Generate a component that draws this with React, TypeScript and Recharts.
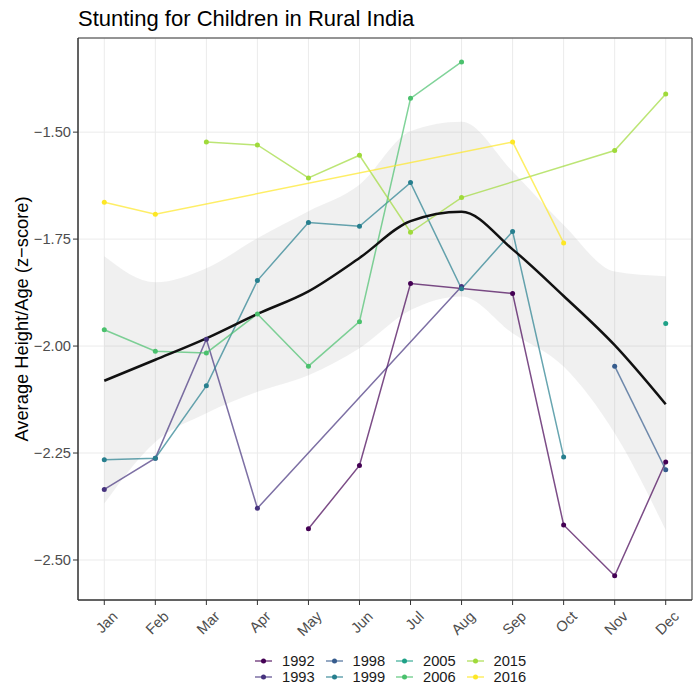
import React from 'react'
import {
  ComposedChart,
  Line,
  Area,
  XAxis,
  YAxis,
  CartesianGrid,
  Legend,
  ReferenceArea,
} from 'recharts'

const months = ['Jan', 'Feb', 'Mar', 'Apr', 'May', 'Jun', 'Jul', 'Aug', 'Sep', 'Oct', 'Nov', 'Dec']

const years = ['1992', '1993', '1998', '1999', '2005', '2006', '2015', '2016']
const colors = ['#440154', '#46337E', '#365C8D', '#277F8E', '#1FA187', '#4AC16D', '#9FDA3A', '#FDE725']

const s1992 = [null, null, null, null, -2.427, -2.279, -1.854, null, -1.877, -2.418, -2.537, -2.271]
const s1993 = [-2.335, -2.262, -1.984, -2.379, null, null, null, -1.861, null, null, null, null]
const s1998 = [null, null, null, null, null, null, null, null, null, null, -2.047, -2.289]
const s1999 = [-2.266, -2.262, -2.093, -1.847, -1.711, -1.72, -1.618, -1.866, -1.732, -2.259, null, null]
const s2005 = [null, null, null, null, null, null, null, null, null, null, null, -1.947]
const s2006 = [-1.962, -2.012, -2.016, -1.925, -2.047, -1.943, -1.421, -1.336, null, null, null, null]
const s2015 = [null, null, -1.523, -1.53, -1.607, -1.554, -1.734, -1.653, null, null, -1.543, -1.411]
const s2016 = [-1.664, -1.692, null, null, null, null, null, null, -1.523, -1.759, null, null]

const smooth = [-2.081, -2.032, -1.982, -1.925, -1.872, -1.794, -1.708, -1.686, -1.774, -1.883, -1.998, -2.136]
const bandLow = [-2.368, -2.224, -2.157, -2.107, -2.068, -2.005, -1.916, -1.884, -1.97, -2.048, -2.204, -2.43]
const bandHigh = [-1.79, -1.851, -1.818, -1.748, -1.685, -1.623, -1.498, -1.476, -1.592, -1.717, -1.826, -1.837]

const yTicks = [-2.5, -2.25, -2.0, -1.75, -1.5]

const seriesList = [s1992, s1993, s1998, s1999, s2005, s2006, s2015, s2016]

const rows = months.map((m, i) => {
  const row: any = { x: i + 1, month: m, smooth: smooth[i], band: [bandLow[i], bandHigh[i]] }
  years.forEach((y, k) => {
    row['y' + y] = seriesList[k][i]
  })
  return row
})

const W = 693
const H = 689
const FONT = '"Liberation Sans", Arial, Helvetica, sans-serif'
const X_DOMAIN: [number, number] = [0.485, 12.515]
const Y_DOMAIN: [number, number] = [-2.5935, -1.28]

const fmtY = (v: number) => v.toFixed(2).replace('-', '\u2212')

const MonthTick = (props: any) => {
  const { x, y, payload } = props
  const ax = x + 7
  const ay = y + 3
  return (
    <text
      x={ax}
      y={ay}
      textAnchor="end"
      dominantBaseline="hanging"
      transform={`rotate(-45 ${ax} ${ay})`}
      fill="#4D4D4D"
      fontSize={14.7}
      fontFamily={FONT}
    >
      {months[payload.value - 1]}
    </text>
  )
}

const YLabel = (props: any) => {
  const vb = props.viewBox || { y: 38, height: 562 }
  const cy = vb.y + vb.height / 2
  return (
    <text
      x={21}
      y={cy}
      transform={`rotate(-90 21 ${cy})`}
      textAnchor="middle"
      dominantBaseline="central"
      fill="#000000"
      fontSize={18.3}
      fontFamily={FONT}
    >
      Average Height/Age (z{'\u2212'}score)
    </text>
  )
}

const LegendBox = () => (
  <div style={{ position: 'relative', width: W, height: 34, fontFamily: FONT }}>
    {years.map((yr, k) => {
      const col = Math.floor(k / 2)
      const row = k % 2
      const left = 255 + col * 70.5
      const top = row * 16
      return (
        <div key={yr} style={{ position: 'absolute', left, top, height: 18, display: 'flex', alignItems: 'center' }}>
          <svg width={17} height={10} style={{ display: 'block' }}>
            <line x1={0} y1={5} x2={17} y2={5} stroke={colors[k]} strokeOpacity={0.7} strokeWidth={1.5} />
            <circle cx={8.5} cy={5} r={2.5} fill={colors[k]} />
          </svg>
          <span style={{ marginLeft: 10, fontSize: 14.7, color: '#1A1A1A', lineHeight: '18px' }}>{yr}</span>
        </div>
      )
    })}
  </div>
)

export default function App() {
  return (
    <div style={{ position: 'absolute', left: 0, top: 0, width: W, height: H, background: '#fff', fontFamily: FONT }}>
      <div style={{ position: 'absolute', left: 78, top: 5, fontSize: 22, lineHeight: '28px', color: '#000' }}>
        Stunting for Children in Rural India
      </div>
      <ComposedChart width={W} height={H} data={rows} margin={{ top: 38, right: 1, bottom: 3, left: 18 }}>
        <CartesianGrid stroke="#EBEBEB" strokeWidth={1} />
        <XAxis
          dataKey="x"
          type="number"
          domain={X_DOMAIN}
          ticks={[1, 2, 3, 4, 5, 6, 7, 8, 9, 10, 11, 12]}
          tick={<MonthTick />}
          tickSize={5}
          height={52}
          stroke="#333333"
          interval={0}
          allowDataOverflow
        />
        <YAxis
          type="number"
          domain={Y_DOMAIN}
          ticks={yTicks}
          tickFormatter={fmtY}
          tick={{ fill: '#4D4D4D', fontSize: 14.7, fontFamily: FONT }}
          tickSize={5}
          width={60}
          stroke="#333333"
          allowDataOverflow
          label={<YLabel />}
        />
        <ReferenceArea
          x1={X_DOMAIN[0]}
          x2={X_DOMAIN[1]}
          y1={Y_DOMAIN[0]}
          y2={Y_DOMAIN[1]}
          fill="none"
          stroke="#333333"
          strokeWidth={1}
          ifOverflow="visible"
        />
        {years.map((yr, k) => (
          <Line
            key={yr}
            dataKey={'y' + yr}
            stroke={colors[k]}
            strokeOpacity={0.7}
            strokeWidth={1.5}
            connectNulls
            dot={{ r: 2.5, fill: colors[k], stroke: 'none' }}
            activeDot={false}
            isAnimationActive={false}
            legendType="none"
          />
        ))}
        <Area
          dataKey="band"
          type="monotone"
          fill="#999999"
          fillOpacity={0.15}
          stroke="none"
          isAnimationActive={false}
          legendType="none"
        />
        <Line
          dataKey="smooth"
          type="monotone"
          stroke="#111111"
          strokeWidth={2.5}
          dot={false}
          activeDot={false}
          isAnimationActive={false}
          legendType="none"
        />
        <Legend
          verticalAlign="bottom"
          content={<LegendBox />}
          wrapperStyle={{ left: 0, width: W, height: 34, bottom: 3 }}
        />
      </ComposedChart>
    </div>
  )
}
